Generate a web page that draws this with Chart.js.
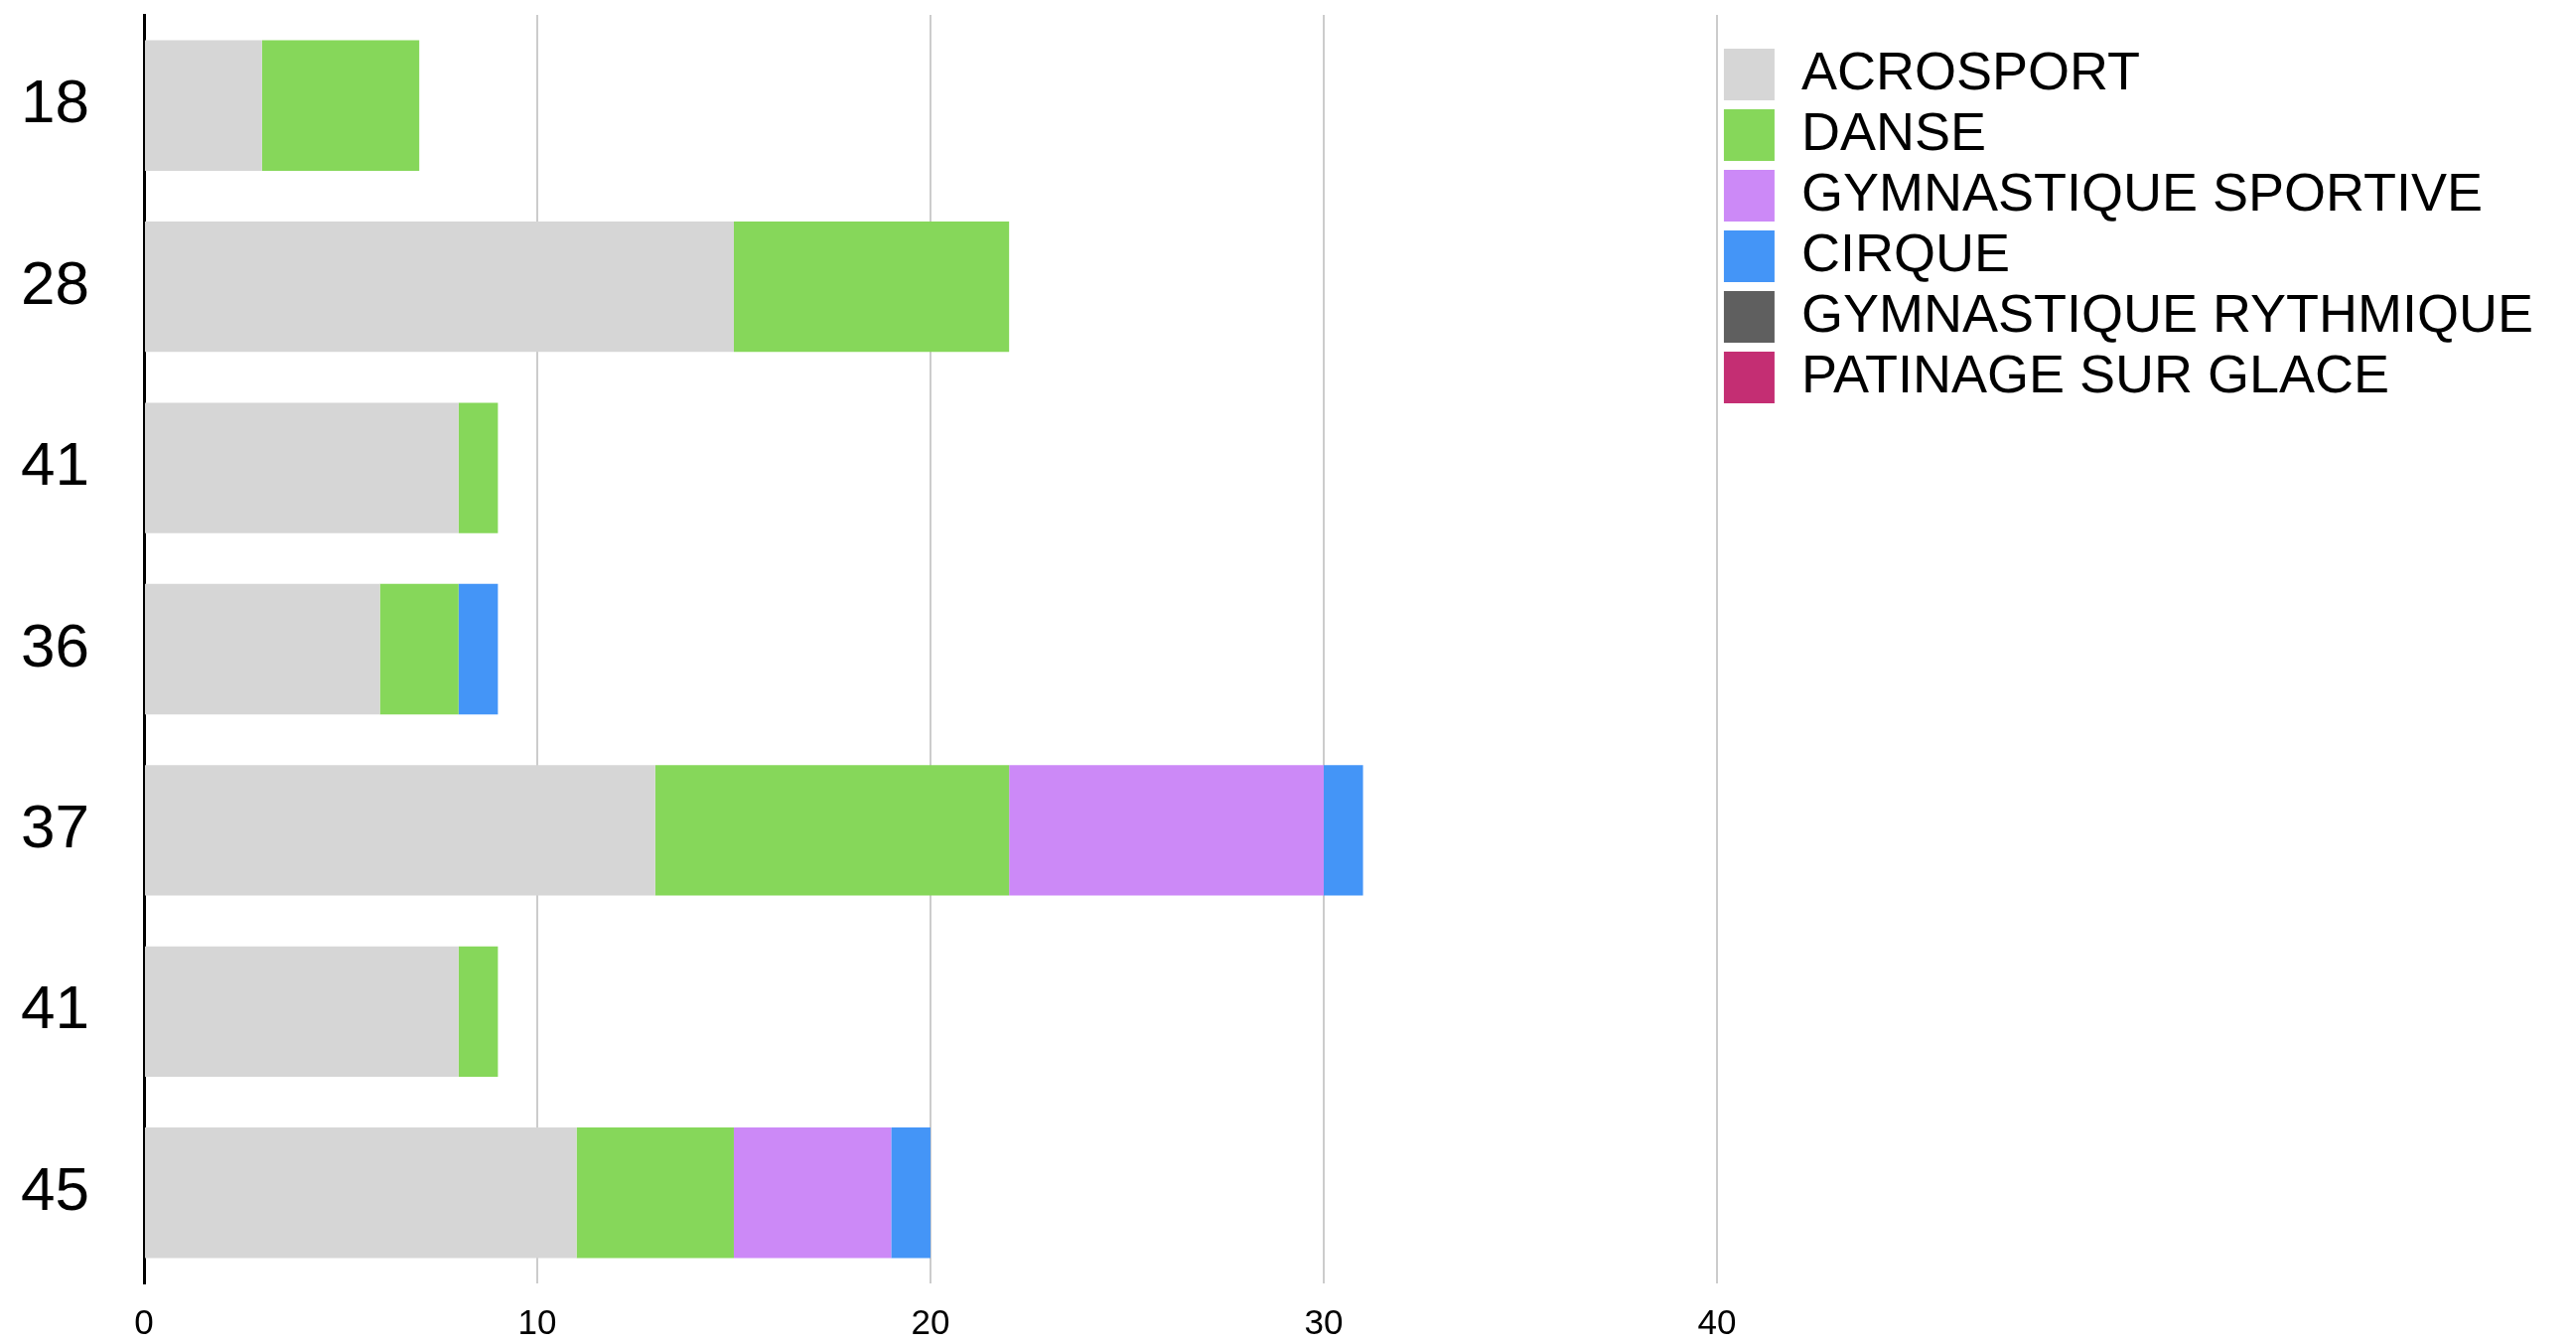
<!DOCTYPE html>
<html><head><meta charset="utf-8">
<script src="https://cdn.jsdelivr.net/npm/chart.js@4"></script>
<style>html,body{margin:0;padding:0;background:#fff;overflow:hidden}canvas{display:block}</style>
</head><body>
<canvas id="c" width="2594" height="1353" style="width:2594px;height:1353px"></canvas>
<script>
const categories = ['18', '28', '41', '36', '37', '41', '45'];
const acrosport = [3, 15, 8, 6, 13, 8, 11];
const danse = [4, 7, 1, 2, 9, 1, 4];
const gymSportive = [0, 0, 0, 0, 8, 0, 4];
const cirque = [0, 0, 0, 1, 1, 0, 1];
const gymRythmique = [0, 0, 0, 0, 0, 0, 0];
const patinage = [0, 0, 0, 0, 0, 0, 0];
const seriesNames = ['ACROSPORT', 'DANSE', 'GYMNASTIQUE SPORTIVE', 'CIRQUE', 'GYMNASTIQUE RYTHMIQUE', 'PATINAGE SUR GLACE'];
const seriesColors = ['#d6d6d6', '#86d75a', '#cc89f7', '#4495f7', '#5f5f5f', '#c42e73'];
const xMin = 0, xMax = 40, xStep = 10;

const seriesValues = [acrosport, danse, gymSportive, cirque, gymRythmique, patinage];
const FONT = '"Liberation Sans", Arial, Helvetica, sans-serif';

new Chart(document.getElementById('c'), {
  type: 'bar',
  data: {
    labels: categories,
    datasets: seriesNames.map((name, i) => ({
      label: name,
      data: seriesValues[i],
      backgroundColor: seriesColors[i],
      borderWidth: 0,
      barPercentage: 0.72,
      categoryPercentage: 1.0
    }))
  },
  options: {
    indexAxis: 'y',
    responsive: false,
    animation: false,
    devicePixelRatio: 1,
    layout: { padding: { left: 0, top: 15, right: 33, bottom: 0 } },
    plugins: {
      tooltip: { enabled: false },
      legend: {
        position: 'right',
        align: 'start',
        maxWidth: 1000,
        title: { display: true, text: '', font: { size: 1, lineHeight: 1 }, padding: { top: 25, bottom: 0 } },
        labels: {
          boxWidth: 51,
          boxHeight: 52,
          padding: 7,
          color: '#000',
          font: { family: FONT, size: 54 }
        }
      }
    },
    scales: {
      x: {
        stacked: true,
        min: xMin,
        max: xMax,
        ticks: { stepSize: xStep, color: '#000', padding: 20, font: { family: FONT, size: 35 } },
        grid: { color: '#cccccc', lineWidth: 2, drawTicks: false },
        border: { display: false },
        afterFit: (s) => { s.height = 61; }
      },
      y: {
        stacked: true,
        ticks: { color: '#000', padding: 55, font: { family: FONT, size: 62 } },
        grid: { display: false, drawTicks: false },
        border: { display: true, color: '#000', width: 3 },
        afterFit: (s) => { s.paddingTop = 0; s.paddingBottom = 0; s.width = 145; }
      }
    }
  }
});
</script>
</body></html>
